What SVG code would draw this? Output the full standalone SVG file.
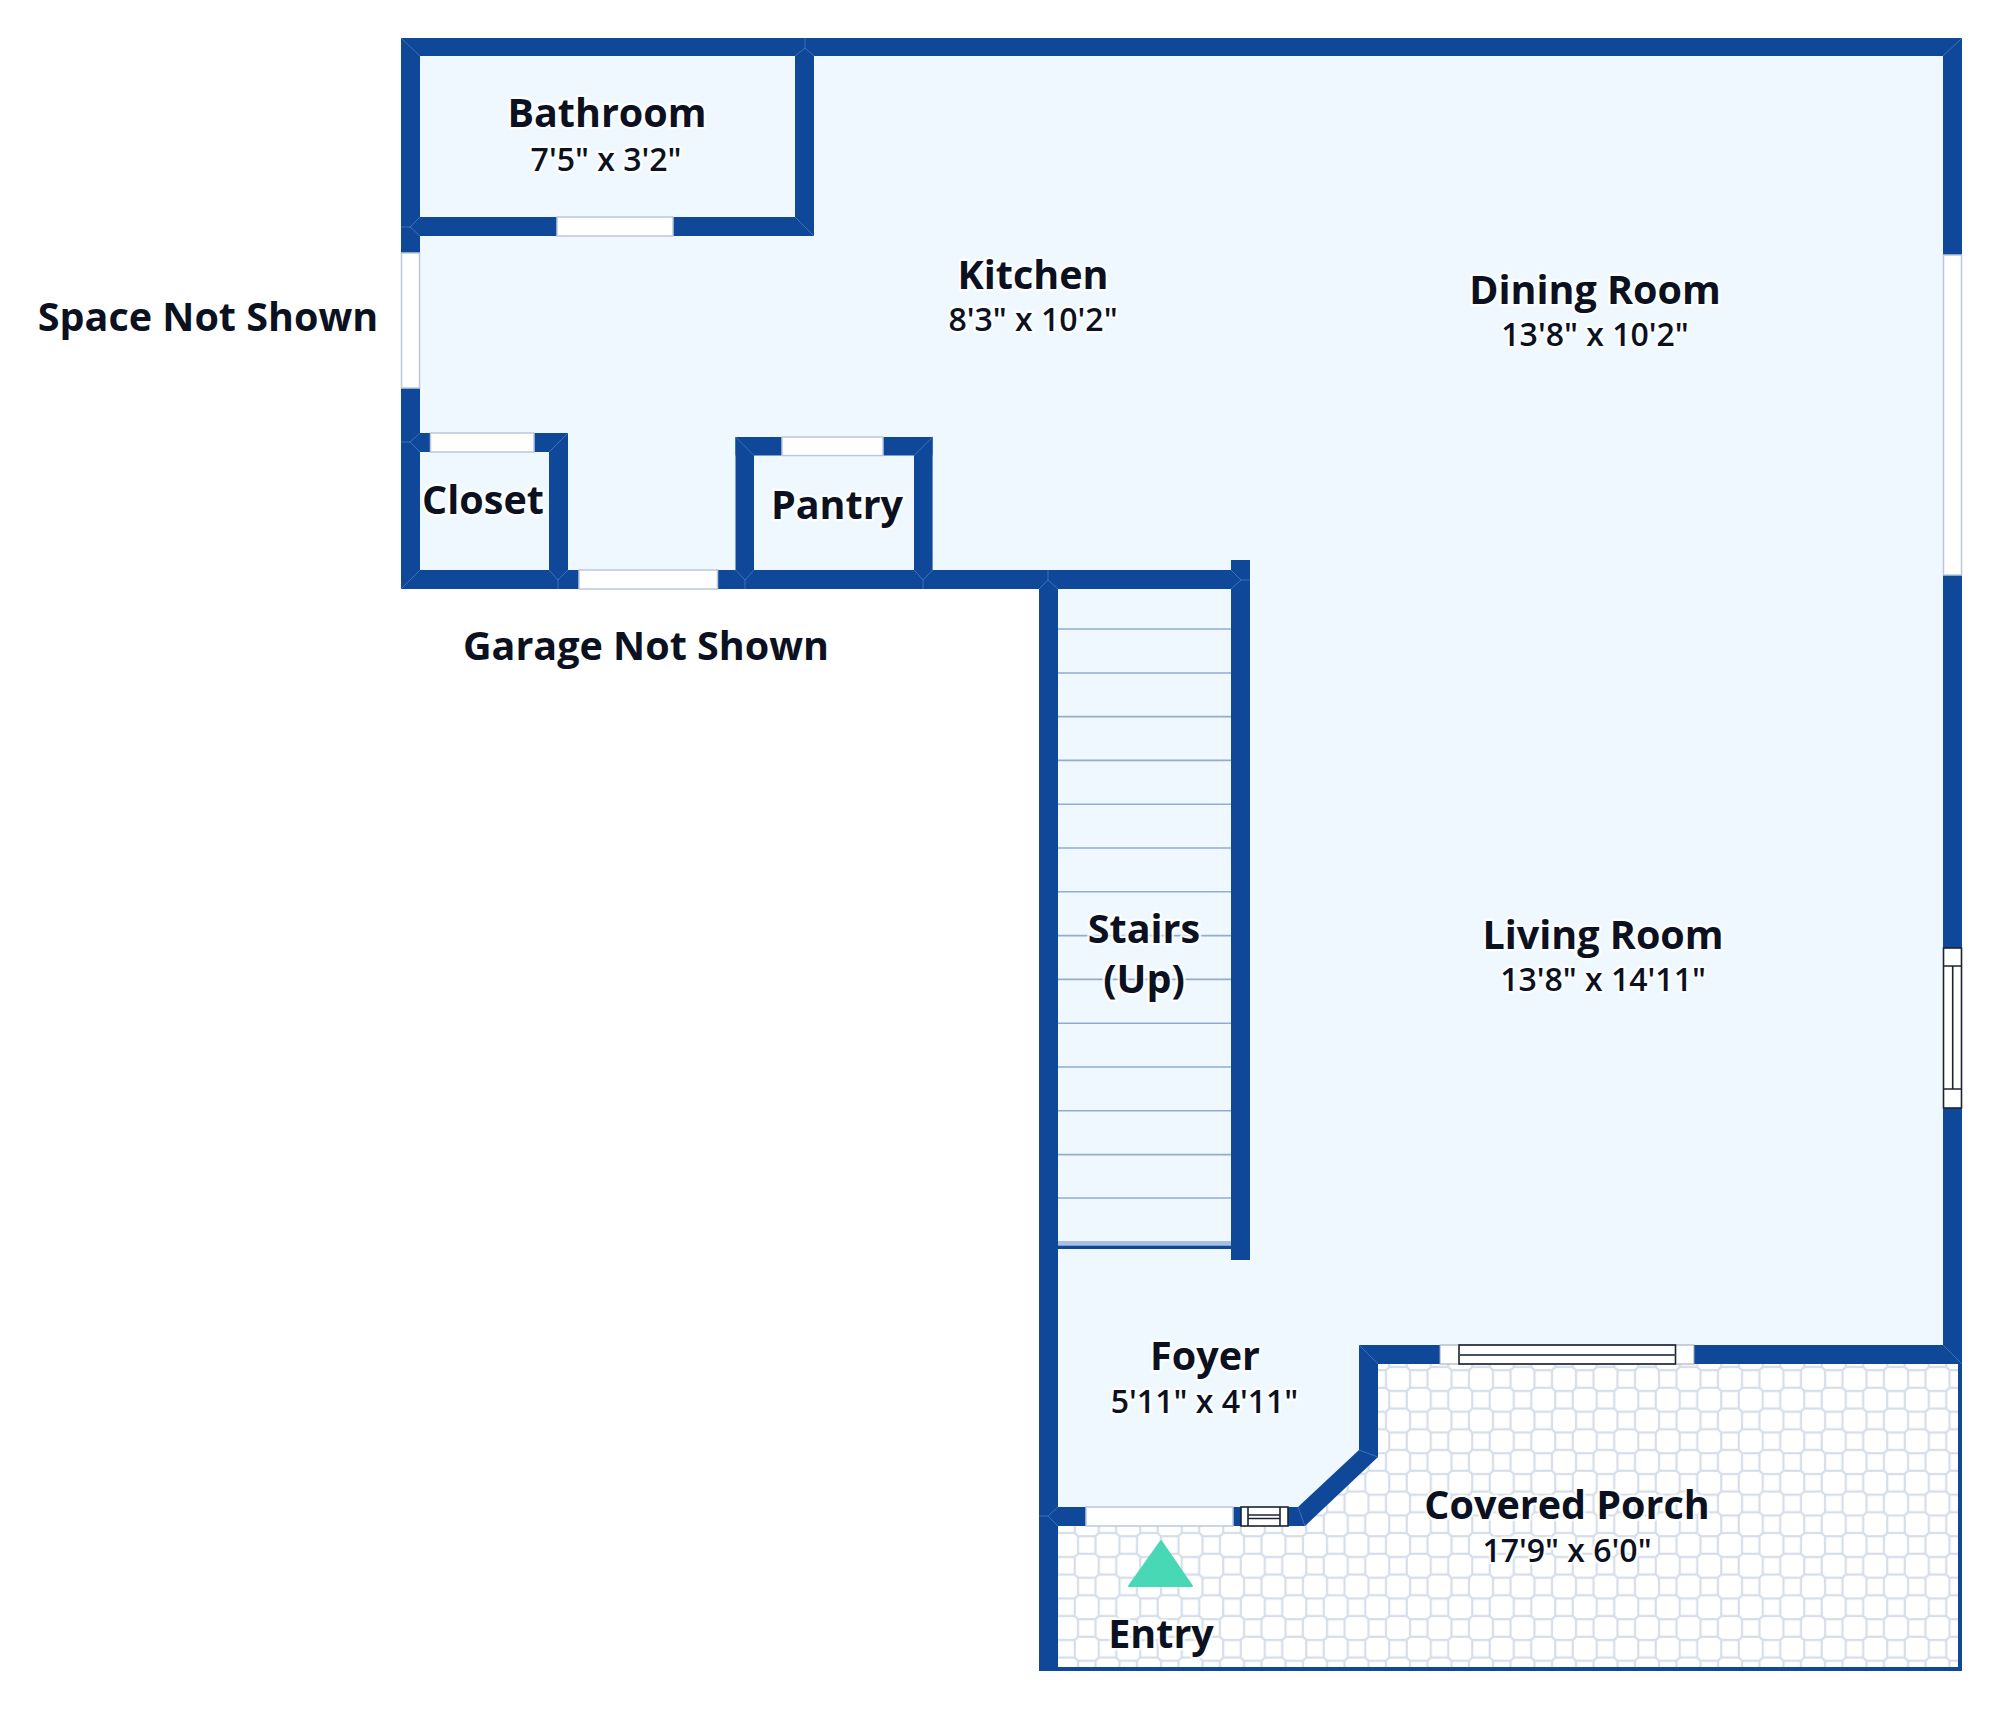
<svg xmlns="http://www.w3.org/2000/svg" width="2000" height="1709" viewBox="0 0 2000 1709">
<style>
.w{fill:#0f4899}
.m{stroke:#3d71b8;stroke-width:1;fill:none}
.o{fill:#fff;stroke:#bcc8da;stroke-width:1.5}
.k{fill:none;stroke:#1c2430;stroke-width:1.6}
.s{stroke:#93abd0;stroke-width:1.6}
text{font-family:"Open Sans","Noto Sans",sans-serif;fill:#0b1120;text-anchor:middle;paint-order:stroke;stroke:#fff;stroke-opacity:.75;stroke-width:5px;stroke-linejoin:round}
.n{font-size:39.500px;font-weight:700}
.d{font-size:32px;font-weight:600}
</style>
<defs>
<pattern id="tile" patternUnits="userSpaceOnUse" x="1730" y="1379" width="41.5" height="41.5">
<rect width="41.5" height="41.5" fill="#fff"/>
<path d="M-8.75-12H8.75L12-8.75V8.75L8.75 12H-8.75L-12 8.75V-8.75ZM32.75-12H50.25L53.5-8.75V8.75L50.25 12H32.75L29.5 8.75V-8.75ZM-8.75 29.5H8.75L12 32.75V50.25L8.75 53.5H-8.75L-12 50.25V32.75ZM32.75 29.5H50.25L53.5 32.75V50.25L50.25 53.5H32.75L29.5 50.25V32.75ZM12 8.75H29.5L32.75 12V29.5L29.5 32.75H12L8.75 29.5V12Z" fill="none" stroke="#d6deea" stroke-width="2.2"/>
</pattern>
</defs>
<g id="floor">
<path d="M401 38H1962V1364H1378V1457L1305 1526H1058V1671H1039V589H401Z" fill="#eff8ff"/>
<path d="M1058 1526H1305L1378 1457V1364H1960V1669H1058Z" fill="url(#tile)"/>
</g>
<g id="stairs">
<path class="s" d="M1058 629H1231M1058 673H1231M1058 716.6H1231M1058 760.4H1231M1058 804.2H1231M1058 848H1231M1058 891.8H1231M1058 935.6H1231M1058 979.4H1231M1058 1023.2H1231M1058 1067H1231M1058 1110.8H1231M1058 1154.6H1231M1058 1198H1231"/>
<rect x="1058" y="1241" width="173" height="4" fill="#a9bfe2"/>
<rect class="w" x="1058" y="1245.500" width="173" height="3.500"/>
</g>
<g id="walls">
<rect class="w" x="401" y="38" width="1561" height="18"/>
<rect class="w" x="401" y="38" width="19" height="551"/>
<rect class="w" x="1943" y="38" width="19" height="1326"/>
<rect class="w" x="795" y="38" width="19" height="198"/>
<rect class="w" x="401" y="217" width="413" height="19"/>
<rect class="w" x="401" y="433" width="167" height="19"/>
<rect class="w" x="549" y="433" width="19" height="156"/>
<rect class="w" x="401" y="570" width="849" height="19"/>
<rect class="w" x="735.500" y="437" width="197" height="18.500"/>
<rect class="w" x="735.500" y="437" width="18.500" height="152"/>
<rect class="w" x="914" y="437" width="18.600" height="152"/>
<rect class="w" x="1039" y="570" width="19" height="1101"/>
<rect class="w" x="1231" y="560" width="19" height="700"/>
<path class="w" d="M1039 1507H1298L1359 1450V1345H1962V1364H1378V1457L1305 1526H1039Z"/>
<path class="w" d="M1958 1364H1962V1671H1039V1667H1958Z"/>
</g>
<g id="openings">
<rect class="o" x="401.500" y="253" width="18" height="135"/>
<rect class="o" x="557" y="217" width="116" height="19"/>
<rect class="o" x="430.500" y="433" width="103.500" height="19"/>
<rect class="o" x="579" y="570" width="138.500" height="19"/>
<rect class="o" x="782" y="437" width="101" height="18.500"/>
<rect class="o" x="1943.500" y="255" width="18" height="320"/>
<rect class="o" x="1086" y="1507" width="147" height="19"/>
</g>
<g id="windows">
<rect fill="#fff" x="1241" y="1507" width="47" height="19"/>
<rect class="k" x="1241" y="1507" width="47" height="19"/>
<path class="k" d="M1248 1507V1526M1280 1507V1526M1248 1515H1280M1248 1518.500H1280"/>
<rect fill="#fff" x="1440" y="1345" width="254" height="19"/>
<rect x="1440" y="1345" width="254" height="19" fill="none" stroke="#9aa3b2" stroke-width="1"/>
<rect class="k" x="1459" y="1345" width="216.500" height="19"/>
<path d="M1459 1355H1675.500" stroke="#4a5260" stroke-width="1.800"/>
<rect fill="#fff" x="1943.500" y="948" width="18" height="160"/>
<rect class="k" x="1943.500" y="948" width="18" height="160"/>
<path class="k" d="M1943.500 966H1961.500M1943.500 1089H1961.500M1952.700 966V1089"/>
</g>
<g id="mitres">
<path class="m" d="M401 38L420 56M1962 38L1943 56M805 48L795 56M805 48L814 56M805 38V48M795 217L814 236M410 227L420 217M410 227L420 236M401 227H410M410 442L420 433M410 442L420 452M401 442H410M549 452L568 433M401 589L420 570M558 580L549 570M558 580L568 570M558 580V589M735.500 437L754 455.500M932.600 437L914 455.500M745 580L735.500 570M745 580L754 570M745 580V589M923 580L914 570M923 580L932.600 570M923 580V589M1048 580L1039 589M1048 580L1058 589M1048 570V580M1241 580L1231 570M1241 580L1231 589M1241 580H1250M1048 1516L1058 1507M1048 1516L1058 1526M1039 1516H1048M1359 1345L1378 1364M1359 1450L1378 1457M1298 1507L1305 1526M1943 1345L1962 1364"/>
</g>
<polygon id="entry-marker" points="1161,1541 1192,1586 1129,1586" fill="#48d8b5" stroke="#48d8b5" stroke-width="2" stroke-linejoin="round"/>
<g id="labels">
<g id="bathroom"><text class="n" x="607" y="127">Bathroom</text><text class="d" x="606" y="171">7'5" x 3'2"</text></g>
<g id="kitchen"><text class="n" x="1033" y="288.500">Kitchen</text><text class="d" x="1033" y="331">8'3" x 10'2"</text></g>
<g id="dining-room"><text class="n" x="1595" y="304">Dining Room</text><text class="d" x="1595" y="346">13'8" x 10'2"</text></g>
<g id="space"><text class="n" x="208" y="331">Space Not Shown</text></g>
<g id="closet"><text class="n" x="483" y="514">Closet</text></g>
<g id="pantry"><text class="n" x="837" y="519">Pantry</text></g>
<g id="garage"><text class="n" x="646" y="660">Garage Not Shown</text></g>
<g id="stairs-label"><text class="n" x="1144" y="943">Stairs</text><text class="n" x="1144" y="993">(Up)</text></g>
<g id="living-room"><text class="n" x="1603" y="949">Living Room</text><text class="d" x="1603" y="991">13'8" x 14'11"</text></g>
<g id="foyer"><text class="n" x="1205" y="1370">Foyer</text><text class="d" x="1204.500" y="1413">5'11" x 4'11"</text></g>
<g id="covered-porch"><text class="n" x="1567" y="1519">Covered Porch</text><text class="d" x="1567" y="1562">17'9" x 6'0"</text></g>
<g id="entry"><text class="n" x="1161" y="1648">Entry</text></g>
</g>
</svg>
